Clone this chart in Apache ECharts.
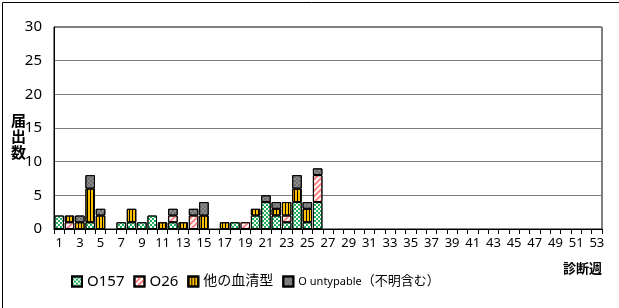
<!DOCTYPE html>
<html>
<head>
<meta charset="utf-8">
<script src="https://cdn.jsdelivr.net/npm/echarts@6/dist/echarts.min.js"></script>
<style>
  body { margin: 0; background: #fff; }
  #chart { width: 619px; height: 308px; }
</style>
</head>
<body>
<div id="chart"></div>
<script>
// 診断週 1..53
var weeks = [];
for (var w = 1; w <= 53; w++) weeks.push(String(w));

// 週ごとの届出数（1〜26週、それ以降は空）
var o157     = [2,0,0,1,0,0,1,1,1,2,0,1,0,0,0,0,0,1,0,2,4,2,1,4,1,4];
var o26      = [0,1,0,0,0,0,0,0,0,0,0,1,0,2,0,0,0,0,1,0,0,0,1,0,0,4];
var others   = [0,1,1,5,2,0,0,2,0,0,1,0,1,0,2,0,1,0,0,1,0,1,2,2,2,0];
var untyped  = [0,0,1,2,1,0,0,0,0,0,0,1,0,1,2,0,0,0,0,0,1,1,0,2,1,1];

var yTicks = [0, 5, 10, 15, 20, 25, 30];

// 0 の週は描かない（枠線だけ残らないように）
function pad(arr) {
  var out = arr.map(function (v) { return v === 0 ? "-" : v; });
  while (out.length < weeks.length) out.push("-");
  return out;
}

var chart = echarts.init(document.getElementById("chart"));
var font = "'Noto Sans', 'Noto Sans CJK JP', sans-serif";

var checker = function (c) {
  return {
    symbol: "rect",
    symbolSize: 1,
    color: c,
    dashArrayX: [[2, 2], [0, 2, 2, 0]],
    dashArrayY: [2, 0],
    rotation: 0
  };
};

chart.setOption({
  animation: false,
  textStyle: { fontFamily: font },
  grid: {
    left: 54,
    right: 17,
    top: 27,
    bottom: 79,
    show: true,
    borderColor: "#000",
    borderWidth: 1
  },
  legend: {
    left: 66,
    top: 269,
    itemWidth: 10,
    itemHeight: 10,
    itemGap: 9,
    icon: "rect",
    textStyle: {
      color: "#000",
      fontFamily: font,
      rich: {
        b: { fontSize: 15, color: "#000", fontFamily: font },
        j: { fontSize: 14, color: "#000", fontFamily: font },
        s: { fontSize: 11, color: "#000", fontFamily: font },
        m: { fontSize: 13, color: "#000", fontFamily: font }
      }
    },
    formatter: function (name) {
      if (name === "O untypable（不明含む）") {
        return "{s|O untypable}{m|（不明含む）}";
      }
      if (name === "他の血清型") return "{j|" + name + "}";
      return "{b|" + name + "}";
    },
    data: ["O157", "O26", "他の血清型", "O untypable（不明含む）"]
  },
  xAxis: {
    type: "category",
    data: weeks,
    axisLine: { lineStyle: { color: "#000" } },
    axisTick: { show: true, interval: 0, length: 5, lineStyle: { color: "#000" } },
    axisLabel: { interval: 1, color: "#000", fontSize: 13, margin: 8, fontFamily: font },
    name: "診断週",
    nameLocation: "end",
    nameGap: 0,
    nameTextStyle: {
      fontWeight: "bold", fontSize: 13, color: "#000",
      align: "right", verticalAlign: "top", padding: [34, 0, 0, 0]
    }
  },
  yAxis: {
    type: "value",
    min: yTicks[0],
    max: yTicks[yTicks.length - 1],
    interval: 5,
    axisLine: { show: true, lineStyle: { color: "#000" } },
    axisTick: { show: false },
    splitLine: { lineStyle: { color: "#7f7f7f" } },
    axisLabel: { color: "#000", fontSize: 15, margin: 12, fontFamily: font }
  },
  series: [
    {
      name: "O157", type: "bar", stack: "a", barCategoryGap: "8%",
      data: pad(o157),
      itemStyle: { color: "#ffffff", borderColor: "#000", borderWidth: 1, decal: checker("#1fae5a") }
    },
    {
      name: "O26", type: "bar", stack: "a",
      data: pad(o26),
      itemStyle: {
        color: "#ffffff", borderColor: "#000", borderWidth: 1,
        decal: { symbol: "rect", symbolSize: 1, color: "#ff8080", dashArrayX: [1, 0], dashArrayY: [2, 2], rotation: -Math.PI / 4 }
      }
    },
    {
      name: "他の血清型", type: "bar", stack: "a",
      data: pad(others),
      itemStyle: {
        color: "#ffc000", borderColor: "#000", borderWidth: 1,
        decal: { symbol: "rect", symbolSize: 1, color: "#000", dashArrayX: [1, 2], dashArrayY: [1, 0], rotation: 0 }
      }
    },
    {
      name: "O untypable（不明含む）", type: "bar", stack: "a",
      data: pad(untyped),
      itemStyle: { color: "#8c8c8c", borderColor: "#000", borderWidth: 1, decal: checker("#6e6e6e") }
    }
  ],
  graphic: [
    {
      type: "rect", left: 0, top: 0,
      shape: { width: 618, height: 307 },
      style: { fill: "none", stroke: "#000", lineWidth: 1 }
    },
    {
      type: "text", left: 11, top: 114,
      style: { text: "届\n出\n数", fontSize: 15, fontWeight: "bold", fill: "#000", lineHeight: 16, fontFamily: font }
    }
  ]
});
</script>
</body>
</html>
